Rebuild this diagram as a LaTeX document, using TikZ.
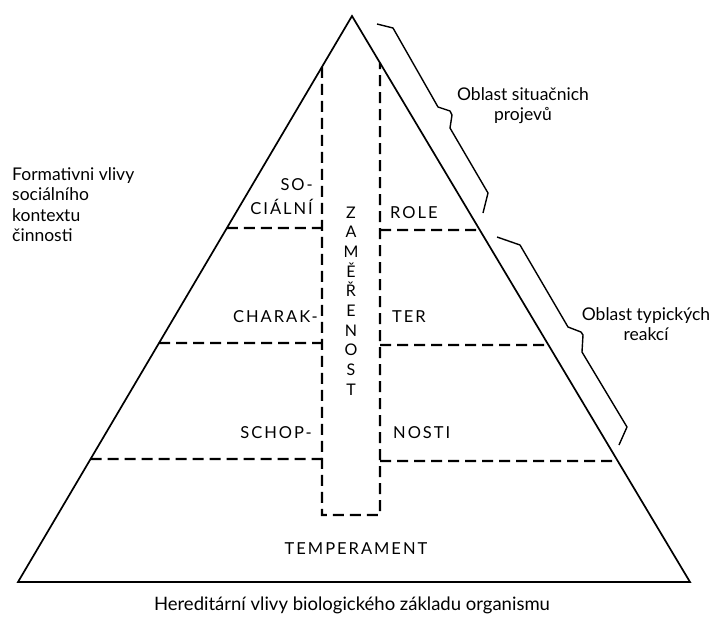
\documentclass[tikz,border=0pt]{standalone}
\usepackage{fontspec}
\setmainfont{Lato}
\newfontfamily\capsfont[LetterSpace=12]{Lato}
\usetikzlibrary{calc}
\begin{document}
\begin{tikzpicture}[x=1pt,y=-1pt,
  edge/.style={line width=1.7pt, line join=miter},
  dsh/.style={line width=2.3pt, dash pattern=on 11pt off 6pt},
  brc/.style={line width=1.4pt, line join=round},
  lbl/.style={font=\fontsize{17.5}{20.5}\selectfont, inner sep=0pt},
  caps/.style={font=\capsfont\fontsize{16.5}{18}\selectfont, inner sep=0pt, anchor=base},
]
\useasboundingbox (0,0) rectangle (713,621);
% triangle
\coordinate (A) at (352,16);
\coordinate (BL) at (18,582);
\coordinate (BR) at (690,582);
\draw[edge] (A) -- (BL) -- (BR) -- cycle;
% column
\coordinate (cl0) at (322,0); \coordinate (cl1) at (322,600);
\coordinate (cr0) at (380,0); \coordinate (cr1) at (380,600);
\coordinate (CTL) at (intersection of A--BL and cl0--cl1);
\coordinate (CTR) at (intersection of A--BR and cr0--cr1);
\coordinate (CBL) at (322,515);
\coordinate (CBR) at (380,515);
\draw[dsh] (CTL) -- (CBL) -- (CBR) -- (CTR);
% dashed levels
\coordinate (L1) at ($(A)!{(228-16)/566}!(BL)$);
\coordinate (L2) at ($(A)!{(343-16)/566}!(BL)$);
\coordinate (L3) at ($(A)!{(459-16)/566}!(BL)$);
\coordinate (R1) at ($(A)!{(230-16)/566}!(BR)$);
\coordinate (R2) at ($(A)!{(345-16)/566}!(BR)$);
\coordinate (R3) at ($(A)!{(461-16)/566}!(BR)$);
\coordinate (M1) at (322,228); \coordinate (N1) at (380,230);
\coordinate (M2) at (322,343); \coordinate (N2) at (380,345);
\coordinate (M3) at (322,459); \coordinate (N3) at (380,461);
\draw[dsh] (L1) -- (M1);
\draw[dsh] (L2) -- (M2);
\draw[dsh] (L3) -- (M3);
\draw[dsh] (N1) -- (R1);
\draw[dsh] (N2) -- (R2);
\draw[dsh] (N3) -- (R3);
% braces
\draw[brc] (377,24) -- (393,28) -- (438,107) -- (450,111) -- (452,115) -- (450,128) -- (488,193) -- (483,213);
\draw[brc] (497,237) -- (520,245) -- (568,327) -- (581,332) -- (583,335) -- (582,352) -- (627,427) -- (619,445);
% labels inside
\node[caps, anchor=base east] (so) at (313,190) {SO-};
\node[caps, anchor=base east] (cialni) at (313,214) {CIÁLNÍ};
\node[caps, anchor=base west] (role) at (390,218) {ROLE};
\node[caps, anchor=base east] (charak) at (318,322) {CHARAK-};
\node[caps, anchor=base west] (ter) at (392,322) {TER};
\node[caps, anchor=base east] (schop) at (312,438) {SCHOP-};
\node[caps, anchor=base west] (nosti) at (393,438) {NOSTI};
\node[caps] (temp) at (356,554) {TEMPERAMENT};
\foreach \l [count=\i] in {Z,A,M,Ě,Ř,E,N,O,S,T}
  \node[caps, font=\fontsize{16}{18}\selectfont] (z\i) at (351,{218+(\i-1)*19.7}) {\l};
% outside labels
\node[lbl, align=left, anchor=north west] (form) at (12,167) {Formativni vlivy\\sociálního\\kontextu\\činnosti};
\node[lbl, align=center, anchor=north] (sit) at (523,87) {Oblast situačnich\\projevů};
\node[lbl, align=center, anchor=north] (typ) at (646,307) {Oblast typických\\reakcí};
\node[lbl, font=\fontsize{18.5}{21}\selectfont, anchor=base] (her) at (352,610) {Hereditární vlivy biologického základu organismu};
\end{tikzpicture}
\end{document}
